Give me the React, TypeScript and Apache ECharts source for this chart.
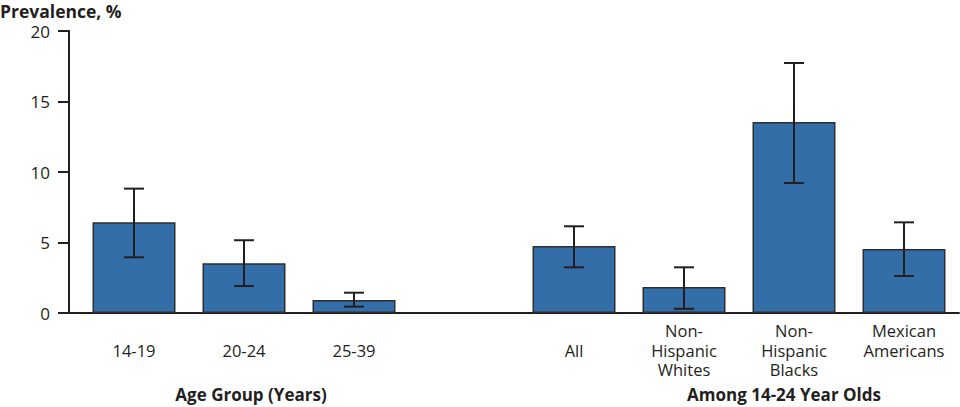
import React, { useEffect, useRef } from "react";
import * as echarts from "echarts";

const categories = ["14-19", "20-24", "25-39", "", "All", "Non-\nHispanic\nWhites", "Non-\nHispanic\nBlacks", "Mexican\nAmericans"];
const prevalence = [6.43, 3.52, 0.92, null, 4.75, 1.84, 13.55, 4.54];
const lowerCI = [3.95, 1.91, 0.45, null, 3.24, 0.3, 9.22, 2.62];
const upperCI = [8.82, 5.16, 1.44, null, 6.15, 3.24, 17.73, 6.43];
const yTicks = { min: 0, max: 20, interval: 5 };
const groupLabels = ["Age Group (Years)", "Among 14-24 Year Olds"];

const INK = "#231f20";
const FONT = "'Open Sans', 'Noto Sans', sans-serif";

export default function App() {
  const ref = useRef<HTMLDivElement>(null);
  useEffect(() => {
    document.body.style.margin = "0";
    const chart = echarts.init(ref.current!, null, { renderer: "svg" });
    const catData = categories.map((c) => {
      const lines = c.split("\n").length;
      return lines === 1 ? { value: c, textStyle: { padding: [19.5, 0, 0, 0] } } : { value: c };
    });
    const errData = categories.map((_, i) => (prevalence[i] == null ? [i, null, null] : [i, lowerCI[i], upperCI[i]]));
    chart.setOption({
      animation: false,
      grid: { left: 79, right: 1, top: 31, bottom: 94, containLabel: false },
      xAxis: {
        type: "category",
        data: catData,
        axisTick: { show: false },
        axisLine: { lineStyle: { color: INK, width: 2 } },
        axisLabel: {
          interval: 0,
          color: INK,
          fontSize: 16.5,
          fontFamily: FONT,
          lineHeight: 19.5,
          margin: 8,
        },
      },
      yAxis: {
        type: "value",
        min: yTicks.min,
        max: yTicks.max,
        interval: yTicks.interval,
        offset: 10,
        splitLine: { show: false },
        axisLine: { show: true, lineStyle: { color: INK, width: 2 } },
        axisTick: { show: true, length: 11, lineStyle: { color: INK, width: 2 } },
        axisLabel: { color: INK, fontSize: 17, fontFamily: FONT, margin: 19, lineHeight: 10, padding: [6, 0, 0, 0] },
      },
      graphic: [
        { type: "line", shape: { x1: 58, y1: 313, x2: 80, y2: 313 }, style: { stroke: INK, lineWidth: 2 } },
        {
          type: "text",
          left: 0,
          top: 2,
          style: { text: "Prevalence, %", font: `bold 17.5px ${FONT}`, fill: INK },
        },
        {
          type: "text",
          x: 251,
          y: 394,
          style: { text: groupLabels[0], font: `bold 17px ${FONT}`, fill: INK, align: "center", verticalAlign: "middle" },
        },
        {
          type: "text",
          x: 784,
          y: 394,
          style: { text: groupLabels[1], font: `bold 17px ${FONT}`, fill: INK, align: "center", verticalAlign: "middle" },
        },
      ],
      series: [
        {
          type: "bar",
          data: prevalence,
          barWidth: 83,
          itemStyle: { color: "#336ea8", borderColor: "#2e2e2e", borderWidth: 1.5 },
        },
        {
          type: "custom",
          data: errData,
          z: 10,
          renderItem: (params: any, api: any) => {
            const lo = api.value(1);
            const hi = api.value(2);
            if (lo == null || isNaN(lo)) return null;
            const pLo = api.coord([api.value(0), lo]);
            const pHi = api.coord([api.value(0), hi]);
            const x = pLo[0];
            const half = 10;
            const style = { stroke: INK, lineWidth: 2 };
            return {
              type: "group",
              children: [
                { type: "line", shape: { x1: x, y1: pHi[1], x2: x, y2: pLo[1] }, style },
                { type: "line", shape: { x1: x - half, y1: pHi[1], x2: x + half, y2: pHi[1] }, style },
                { type: "line", shape: { x1: x - half, y1: pLo[1], x2: x + half, y2: pLo[1] }, style },
              ],
            };
          },
        },
      ],
    });
    return () => chart.dispose();
  }, []);
  return <div ref={ref} style={{ width: 960, height: 407 }} />;
}
